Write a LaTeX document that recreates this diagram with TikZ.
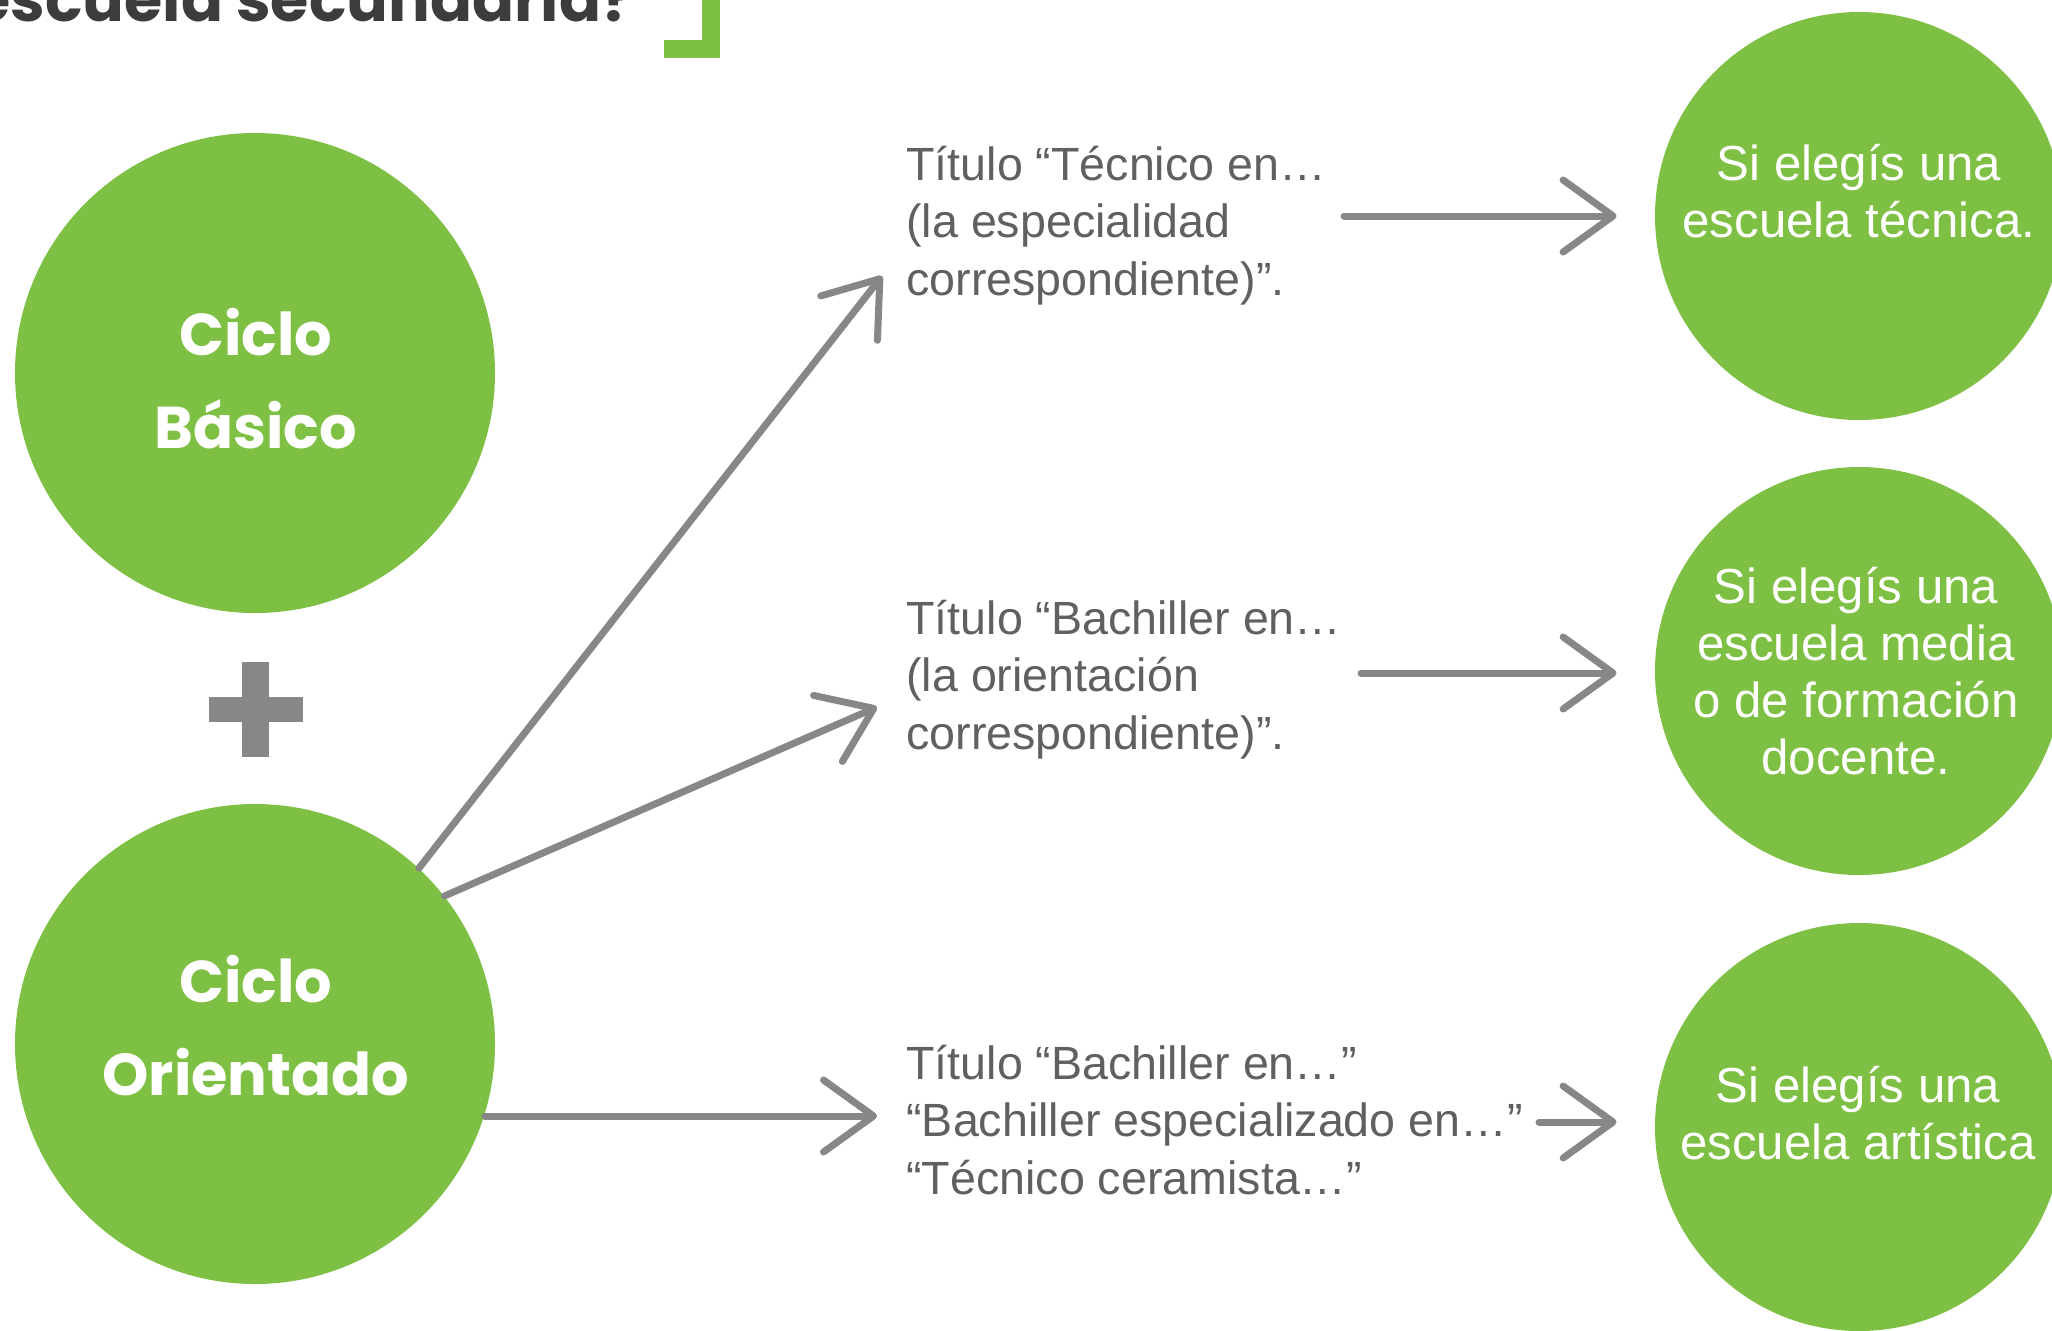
\documentclass[tikz,border=0pt]{standalone}
\usepackage{fontspec}
\setmainfont{Liberation Sans}
\newfontfamily\geo{Poppins}
\usetikzlibrary{arrows.meta}
\definecolor{verde}{RGB}{126,192,67}
\definecolor{gris}{RGB}{135,135,135}
\definecolor{textogris}{RGB}{96,96,96}
\definecolor{titulo}{RGB}{60,60,59}
\begin{document}
\begin{tikzpicture}[x=0.5pt,y=-0.5pt,
  bigc/.style={circle, fill=verde, inner sep=0pt, minimum size=240pt},
  smallc/.style={circle, fill=verde, inner sep=0pt, minimum size=204pt},
  cyclelbl/.style={anchor=base, inner sep=0pt, text=white, font=\geo\bfseries\fontsize{29.5}{46.5}\selectfont},
  desc/.style={anchor=base west, inner sep=0pt, text=textogris, font=\fontsize{23.3}{28.75}\selectfont},
  schoollbl/.style={anchor=base, inner sep=0pt, text=white, font=\fontsize{24.6}{28.5}\selectfont},
  arr/.style={draw=gris, line width=3.5pt, line cap=round,
    -{Straight Barb[length=25pt, width=36pt, round]}}]
\useasboundingbox (0,0) rectangle (2052,1330);

% title fragment and bracket
\node[anchor=base east, inner sep=0pt, text=titulo, font=\geo\bfseries\fontsize{31}{38}\selectfont] (title) at (635,21) {escuela secundaria?};
\fill[verde] (702,-10) rectangle (720,58);
\fill[verde] (664,40) rectangle (720,58);

% left circles
\node[bigc] (CB) at (255,373) {};
\node[bigc] (CO) at (255,1044) {};
\node[cyclelbl] (CBt) at (256,355) {\begin{tabular}[t]{@{}c@{}}Ciclo\\Básico\end{tabular}};
\node[cyclelbl] (COt) at (256,1002) {\begin{tabular}[t]{@{}c@{}}Ciclo\\Orientado\end{tabular}};

% plus sign
\fill[gris] (242,662) rectangle (269,757);
\fill[gris] (209,697) rectangle (303,722);

% right circles
\node[smallc] (R1) at (1859,216) {};
\node[smallc] (R2) at (1859,671) {};
\node[smallc] (R3) at (1859,1127) {};
\node[schoollbl] (R1t) at (1859,180) {\begin{tabular}[t]{@{}c@{}}Si elegís una\\escuela técnica.\end{tabular}};
\node[schoollbl] (R2t) at (1856,603) {\begin{tabular}[t]{@{}c@{}}Si elegís una\\escuela media\\o de formación\\docente.\end{tabular}};
\node[schoollbl] (R3t) at (1858,1102) {\begin{tabular}[t]{@{}c@{}}Si elegís una\\escuela artística\end{tabular}};

% description texts
\node[desc] (T1) at (906,180) {\begin{tabular}[t]{@{}l@{}}Título “Técnico en…\\(la especialidad\\correspondiente)”.\end{tabular}};
\node[desc] (T2) at (906,634) {\begin{tabular}[t]{@{}l@{}}Título “Bachiller en…\\(la orientación\\correspondiente)”.\end{tabular}};
\node[desc] (T3) at (906,1079) {\begin{tabular}[t]{@{}l@{}}Título “Bachiller en…”\\“Bachiller especializado en…”\\“Técnico ceramista…”\end{tabular}};

% arrow ends
\coordinate (e1) at (882,276);
\coordinate (e2) at (877,707);
\coordinate (e3) at (877,1116);
\coordinate (s1) at (1344,216);
\coordinate (s2) at (1361,673);
\coordinate (s3) at (1539,1122);

% connectors
\draw[arr] (CO.47.5) -- (e1);
\draw[arr] (CO.38.5) -- (e2);
\draw[arr] (CO.-17.5 |- e3) -- (e3);
\draw[arr, shorten >=19pt] (s1) -- (s1 -| R1.west);
\draw[arr, shorten >=19pt] (s2) -- (s2 -| R2.west);
\draw[arr, shorten >=19pt] (s3) -- (s3 -| R3.west);
\end{tikzpicture}
\end{document}
